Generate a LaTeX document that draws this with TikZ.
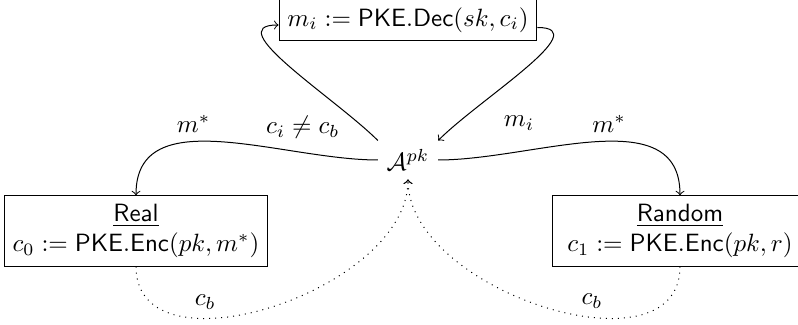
\documentclass[tikz,border=0pt]{standalone}
\usetikzlibrary{arrows}
\begin{document}
\begin{tikzpicture}[x=0.4pt,y=0.4pt,
  game/.style={draw, align=center, minimum width=102.4pt, inner sep=3.33pt},
  oracle/.style={draw, inner sep=3.33pt},
  flow/.style={->},
  leak/.style={->, dotted}]
  \useasboundingbox (0,0) rectangle (798,-325);

  % oracles and adversary
  \node[oracle] (dec) at (408,-20) {$m_i := \mathsf{PKE.Dec}(sk, c_i)$};
  \node (adv) at (408,-160) {$\mathcal{A}^{pk}$};
  \node[game] (real) at (136,-231) {\underline{\textsf{Real}}\\ $c_0 := \mathsf{PKE.Enc}(pk, m^*)$};
  \node[game] (rand) at (680,-231) {\underline{\textsf{Random}}\\ $c_1 := \mathsf{PKE.Enc}(pk, r)$};

  % challenge messages
  \draw[flow] (adv.west) to[out=180,in=90] node[pos=0.6, above] {$m^*$} (real.north);
  \draw[flow] (adv.east) to[out=0,in=90] node[pos=0.55, above] {$m^*$} (rand.north);

  % decryption oracle queries
  \draw[flow] (adv.north west) to[out=135,in=180] node[pos=0.1, left=6pt] {$c_i \neq c_b$} ([yshift=-2pt]dec.west);
  \draw[flow] ([yshift=-3pt]dec.east) to[out=0,in=45] node[pos=0.87, right=15pt] {$m_i$} (adv.north east);

  % challenge ciphertexts
  \draw[leak] (real.south) to[out=-90,in=-90] node[pos=0.33, above] {$c_b$} (adv.south);
  \draw[leak] (rand.south) to[out=-90,in=-90] node[pos=0.38, above] {$c_b$} (adv.south);
\end{tikzpicture}
\end{document}
